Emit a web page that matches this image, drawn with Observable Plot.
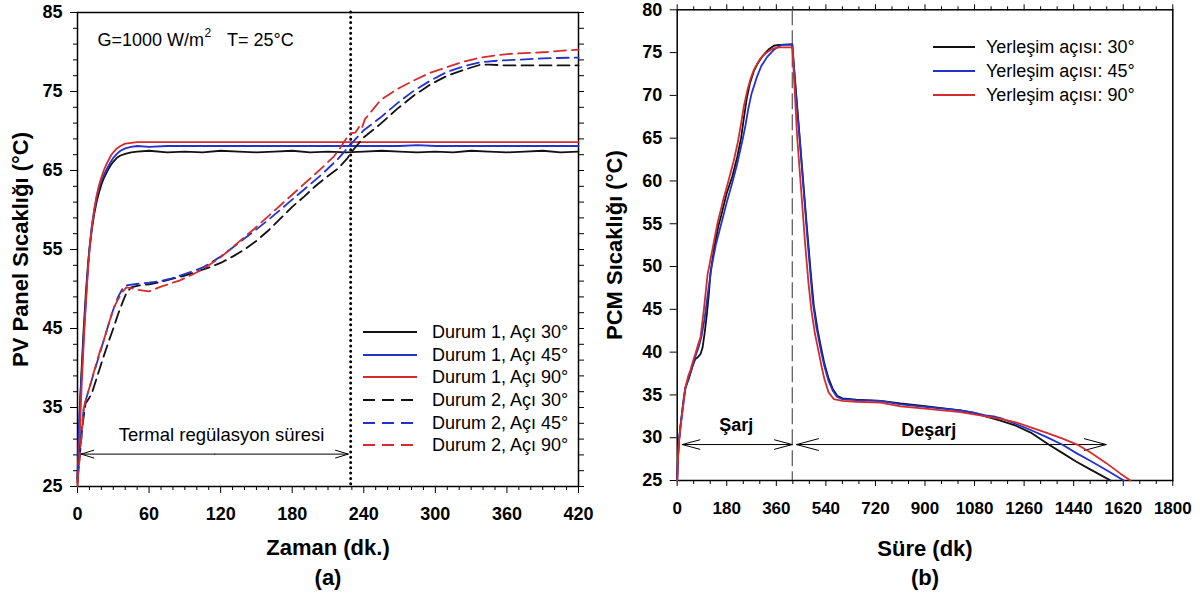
<!DOCTYPE html>
<html><head><meta charset="utf-8">
<script src="https://cdn.jsdelivr.net/npm/d3@7"></script>
<script src="https://cdn.jsdelivr.net/npm/@observablehq/plot@0.6"></script>
<style>
body{margin:0;background:#fff;}
#wrap{position:relative;width:1201px;height:600px;font-family:"Liberation Sans",Arial,sans-serif;color:#000;}
#pa{position:absolute;left:0;top:0;}
#pb{position:absolute;left:600px;top:0;}
.lt{position:absolute;font-size:18px;line-height:22px;white-space:nowrap;}
.ls{position:absolute;overflow:visible;}
</style></head><body><div id="wrap"><div id="pa"></div><div id="pb"></div></div>
<script>
// ---------- Panel (a) data: [time (dk.), temperature (°C)] ----------
const a_d1_30 = [[0,25.5],[1,30],[2,35],[3,38.5],[4,41.5],[5,44.5],[6,47],[7,49.5],[8,51.5],[9,53.5],[10,55],[12,57.5],[14,59.5],[16,61],[18,62.2],[20,63.2],[22,64],[24,64.6],[26,65.2],[28,65.7],[30,66.1],[33,66.6],[36,66.9],[40,67.1],[45,67.3],[50,67.4],
 [60,67.5],[75,67.3],[90,67.4],[105,67.3],[120,67.5],[135,67.4],[150,67.3],[165,67.4],[180,67.5],[195,67.3],[210,67.4],[225,67.3],[240,67.4],[255,67.5],[270,67.4],[285,67.3],[300,67.4],[315,67.3],[330,67.5],[345,67.4],[360,67.3],[375,67.4],[390,67.5],[405,67.3],[420,67.4]];
const a_d1_45 = [[0,26],[1,31.7],[2,35.5],[3,38],[4,40.5],[5,43.5],[6,46],[7,48.5],[8,51],[9,53.2],[10,55.2],[12,58],[14,60],[16,61.6],[18,62.8],[20,63.7],[22,64.4],[24,65],[26,65.6],[28,66.1],[30,66.6],[33,67.1],[36,67.5],[40,67.8],[45,68],[50,68.1],
 [60,68.0],[75,68.1],[90,68.1],[105,68.1],[120,68.1],[135,68.1],[150,68.1],[165,68.1],[180,68.1],[195,68.1],[210,68.1],[225,68.1],[240,68.1],[255,68.1],[270,68.1],[285,68.2],[300,68.1],[315,68.1],[330,68.1],[345,68.1],[360,68.1],[375,68.1],[390,68.1],[405,68.1],[420,68.1]];
const a_d1_90 = [[0,25],[1,28],[2,32],[3,36],[4,39.5],[5,42.5],[6,45.5],[7,48],[8,50.5],[9,52.8],[10,54.8],[12,57.8],[14,60],[16,61.8],[18,63.1],[20,64.1],[22,65],[24,65.7],[26,66.3],[28,66.9],[30,67.3],[33,67.8],[36,68.1],[40,68.4],[45,68.5],[50,68.6],
 [60,68.6],[120,68.6],[180,68.6],[240,68.6],[300,68.6],[360,68.6],[420,68.6]];
const a_d2_30 = [[0,26],[2,29],[4,32.5],[6.7,35.5],[9,36],[12,36.8],[15,38.2],[19,40.1],[22,41.5],[26,43.3],[30,45],[34,46.8],[38,48.4],[41,49.5],[45,50.2],[50,50.4],[60,50.6],[70,50.9],[80,51.3],[90,51.7],[100,52.2],[110,52.7],[120,53.3],[130,54.1],[140,55],[150,56.1],[160,57.4],[170,58.9],[176,59.8],[180,60.4],[190,61.7],[200,63.1],[210,64.3],[218,65.2],[226,66.5],[230,67.4],[240,69.2],[254,70.9],[268,72.8],[282,74.5],[296,75.9],[310,77],[325,77.8],[338,78.4],[345,78.4],[360,78.3],[380,78.3],[400,78.3],[420,78.3]];
const a_d2_45 = [[0,26.5],[2,30],[4,33],[5.3,35],[8,36.5],[11,38],[15,40],[19,42],[22,43.5],[26,45.5],[30,47.4],[34,49],[38,50.1],[42,50.5],[48,50.6],[53,50.7],[60,50.8],[70,51],[78,51.3],[86,51.7],[96,52.2],[106,52.8],[120,54.1],[134,55.7],[148,57.3],[162,59],[176,60.8],[190,62.6],[204,64.4],[218,66.4],[229,68.3],[240,70.1],[254,71.7],[268,73.5],[282,75.1],[296,76.4],[310,77.5],[324,78.2],[338,78.7],[352,78.9],[366,79],[390,79.2],[420,79.3]];
const a_d2_90 = [[0,25.5],[2,29],[4,32.5],[5.3,35],[8,36.5],[11,38],[15,40.2],[19,42.2],[22,43.5],[26,45.5],[30,47.5],[33,48.4],[37,49.5],[41,50.2],[45,50.1],[50,49.9],[55,49.8],[60,49.7],[70,50.3],[80,50.8],[86,51.1],[96,51.8],[106,52.6],[120,54],[134,55.8],[148,57.6],[162,59.5],[176,61.4],[190,63.3],[204,65.2],[215,66.8],[220,67.8],[226,69.2],[229,69.7],[233,69.8],[236,70.5],[238,70.2],[241,71.5],[254,73.9],[268,75.3],[282,76.4],[296,77.4],[310,78.1],[324,78.8],[338,79.3],[352,79.6],[366,79.8],[380,79.9],[394,80],[410,80.2],[420,80.3]];

const aXTicks = [0,60,120,180,240,300,360,420];
const aYTicks = [25,35,45,55,65,75,85];
const aLegendLabels = ["Durum 1, Açı 30°","Durum 1, Açı 45°","Durum 1, Açı 90°","Durum 2, Açı 30°","Durum 2, Açı 45°","Durum 2, Açı 90°"];
const aTitleParts = ["G=1000 W/m", "2", "T= 25°C"];
const aRegulationEnd = 229;            // dotted line (dk.)
const aArrowSpan = [3, 227];          // "Termal regülasyon süresi" arrow (dk.)
const aArrowLevel = 29.1;             // °C

// ---------- Panel (b) data: [time (dk), PCM temperature (°C)] ----------
const b_30 = [[0,25],[3,27.8],[6,29.5],[12,31.4],[18,33],[24,34.6],[30,35.8],[42,36.9],[55,38.3],[66,39.2],[75,39.4],[85,39.8],[92,40.5],[100,42.3],[108,44.5],[115,46.8],[121,49.3],[135,52.3],[150,54.8],[160,56],[180,58.6],[200,60.5],[218,62.8],[232,65],[242,67.3],[252,69.5],[264,71.4],[278,72.8],[290,73.6],[310,74.6],[333,75.4],[351,75.8],[370,75.9],[418,75.95],
 [425,73],[440,67],[455,61],[470,55],[485,49.3],[496,45.5],[510,42.6],[522,40.6],[535,38.6],[550,36.9],[565,35.7],[581,34.9],[600,34.6],[650,34.45],[739,34.3],[811,34],[900,33.7],[1029,33.2],[1080,32.9],[1120,32.5],[1174,32],[1230,31.4],[1284,30.6],[1349,29.2],[1400,28.2],[1450,27.2],[1500,26.3],[1540,25.6],[1574,25]];
const b_45 = [[0,25],[3,27.8],[6,29.5],[12,31.4],[18,33],[24,34.6],[30,35.9],[42,37],[55,38.3],[66,39.5],[78,40.6],[88,41.8],[100,44],[112,47],[125,50],[140,52.5],[160,55],[180,57.5],[200,59.8],[218,62],[236,64.6],[248,66.5],[258,68.4],[270,70.2],[290,72.2],[305,73.4],[327,74.5],[350,75.3],[363,75.6],[380,75.9],[418,75.95],
 [428,71.5],[445,64.8],[460,58.6],[475,52.5],[492,46],[505,43],[523,40],[535,38.3],[550,36.6],[565,35.5],[580,34.8],[600,34.5],[650,34.4],[739,34.3],[811,33.9],[900,33.6],[1029,33.2],[1080,32.9],[1120,32.6],[1150,32.5],[1160,32.4],[1174,32.3],[1230,31.6],[1284,30.9],[1340,30.1],[1398,29.2],[1450,28.2],[1500,27.3],[1560,26.2],[1622,25]];
const b_90 = [[0,25],[3,27.5],[6,29.3],[12,31.2],[18,32.8],[24,34.3],[30,35.9],[40,37.2],[48,37.9],[57,38.9],[66,39.8],[75,40.8],[85,41.8],[97,45],[110,49],[128,52],[146,55],[165,57.5],[186,60],[205,62.3],[220,64.5],[232,66.7],[242,68.7],[254,70.5],[266,71.9],[280,73.1],[302,74.3],[320,74.9],[339,75.3],[351,75.5],[370,75.6],[418,75.6],
 [426,71],[436,65],[450,59],[465,52.5],[477,48],[487,45],[500,42.2],[514,40],[525,38.2],[535,36.8],[550,35.3],[569,34.5],[600,34.3],[650,34.2],[739,34.1],[811,33.65],[900,33.4],[1029,33],[1100,32.6],[1174,32.2],[1230,31.8],[1284,31.2],[1340,30.6],[1400,29.9],[1453,29.2],[1500,28.3],[1560,27],[1610,25.8],[1646,25]];

const bXTicks = [0,180,360,540,720,900,1080,1260,1440,1620,1800];
const bYTicks = [25,30,35,40,45,50,55,60,65,70,75,80];
const bLegendLabels = ["Yerleşim açısı: 30°","Yerleşim açısı: 45°","Yerleşim açısı: 90°"];
const bSwitchTime = 418;               // charge -> discharge (dk)
const bChargeSpan = [18, 417.7];
const bDischargeSpan = [433.5, 1558];
const bArrowLevel = 29.2;

// ---------- styling ----------
const FONT = '"Liberation Sans", Arial, sans-serif';
const C30 = "#111111", C45 = "#2233cc", C90 = "#d42c2c";
const DASH = "12,6";
const toRows = arr => arr.map(([t, v]) => ({t, v}));
const blank = () => "";
const intFmt = d3.format("d");

const aSeries = [
  {data: a_d1_30, color: C30, dash: null},
  {data: a_d1_45, color: C45, dash: null},
  {data: a_d1_90, color: C90, dash: null},
  {data: a_d2_30, color: C30, dash: DASH},
  {data: a_d2_45, color: C45, dash: DASH},
  {data: a_d2_90, color: C90, dash: DASH}
];
const bSeries = [
  {data: b_30, color: C30},
  {data: b_45, color: C45},
  {data: b_90, color: C90}
];

function doubleArrow(span, level) {
  const mid = (span[0] + span[1]) / 2;
  return [{x1: mid, x2: span[0], y: level}, {x1: mid, x2: span[1], y: level}];
}

// ---------- Panel (a) ----------
const chartA = Plot.plot({
  width: 600, height: 600,
  marginLeft: 77, marginRight: 22, marginTop: 12, marginBottom: 114,
  x: {domain: [0, 420], label: null},
  y: {domain: [25, 85], label: null},
  style: {fontFamily: FONT, fontSize: "18px", color: "#000", background: "transparent", overflow: "visible"},
  marks: [
    Plot.axisY({anchor: "left", ticks: d3.range(25, 86, 2).filter(v => (v - 25) % 10 !== 0), tickSize: 4, tickFormat: blank, label: null}),
    Plot.axisY({anchor: "left", ticks: aYTicks, tickSize: 7, tickPadding: 8, tickFormat: intFmt, fontSize: 18, fontWeight: "bold", label: null}),
    Plot.axisY({anchor: "right", ticks: d3.range(25, 86, 2), tickSize: 5, tickFormat: blank, label: null}),
    Plot.axisX({anchor: "bottom", ticks: d3.range(0, 421, 10).filter(v => v % 60 !== 0), tickSize: 4, tickFormat: blank, label: null}),
    Plot.axisX({anchor: "bottom", ticks: aXTicks, tickSize: 7, tickPadding: 14, tickFormat: intFmt, fontSize: 18, fontWeight: "bold", label: null}),
    Plot.frame({stroke: "#000", strokeWidth: 1.5}),
    Plot.ruleX([aRegulationEnd], {stroke: "#000", strokeWidth: 3, strokeDasharray: "0,5.3", strokeLinecap: "round"}),
    ...aSeries.map(s => Plot.line(toRows(s.data), {x: "t", y: "v", stroke: s.color, strokeWidth: 1.8, strokeDasharray: s.dash || undefined})),
    Plot.arrow(doubleArrow(aArrowSpan, aArrowLevel), {x1: "x1", x2: "x2", y1: "y", y2: "y", stroke: "#000", strokeWidth: 1, headLength: 20, headAngle: 34}),
    Plot.text(["Termal regülasyon süresi"], {frameAnchor: "bottom-left", dx: 144, dy: -46, textAnchor: "middle", lineAnchor: "bottom", fontSize: 18.5}),
    Plot.text([aTitleParts[0]], {frameAnchor: "top-left", dx: 20, dy: 33, textAnchor: "start", lineAnchor: "bottom", fontSize: 18}),
    Plot.text([aTitleParts[1]], {frameAnchor: "top-left", dx: 127, dy: 24.5, textAnchor: "start", lineAnchor: "bottom", fontSize: 12}),
    Plot.text([aTitleParts[2]], {frameAnchor: "top-left", dx: 149.5, dy: 33, textAnchor: "start", lineAnchor: "bottom", fontSize: 18}),
    Plot.text(["Zaman (dk.)"], {frameAnchor: "bottom", dy: 68, lineAnchor: "bottom", fontSize: 22, fontWeight: "bold"}),
    Plot.text(["(a)"], {frameAnchor: "bottom", dy: 98, lineAnchor: "bottom", fontSize: 22, fontWeight: "bold"}),
    Plot.text(["PV Panel Sıcaklığı (°C)"], {frameAnchor: "left", rotate: -90, dx: -50, lineAnchor: "bottom", textAnchor: "middle", fontSize: 22, fontWeight: "bold"})
  ]
});
document.getElementById("pa").appendChild(chartA);

// ---------- Panel (b) ----------
const chartB = Plot.plot({
  width: 601, height: 600,
  marginLeft: 76.7, marginRight: 28.7, marginTop: 9.3, marginBottom: 120,
  x: {domain: [0, 1800], label: null},
  y: {domain: [25, 80], label: null},
  style: {fontFamily: FONT, fontSize: "18px", color: "#000", background: "transparent", overflow: "visible"},
  marks: [
    Plot.axisY({anchor: "left", ticks: bYTicks, tickSize: 7, tickPadding: 8, tickFormat: intFmt, fontSize: 18, fontWeight: "bold", label: null}),
    Plot.axisX({anchor: "bottom", ticks: d3.range(0, 1801, 60).filter(v => v % 180 !== 0), tickSize: 4, tickFormat: blank, label: null}),
    Plot.axisX({anchor: "bottom", ticks: bXTicks, tickSize: 6, tickPadding: 15, tickFormat: intFmt, fontSize: 17, fontWeight: "bold", label: null}),
    Plot.axisX({anchor: "top", ticks: d3.range(0, 1801, 60).filter(v => v % 180 !== 0), tickSize: 4, tickFormat: blank, label: null}),
    Plot.axisX({anchor: "top", ticks: bXTicks, tickSize: 6, tickFormat: blank, label: null}),
    Plot.frame({stroke: "#000", strokeWidth: 1.5}),
    Plot.ruleX([bSwitchTime], {stroke: "#555", strokeWidth: 1.2, strokeDasharray: "16,5"}),
    Plot.arrow(doubleArrow(bChargeSpan, bArrowLevel), {x1: "x1", x2: "x2", y1: "y", y2: "y", stroke: "#000", strokeWidth: 1, headLength: 34, headAngle: 30}),
    Plot.arrow(doubleArrow(bDischargeSpan, bArrowLevel), {x1: "x1", x2: "x2", y1: "y", y2: "y", stroke: "#000", strokeWidth: 1, headLength: 34, headAngle: 30}),
    ...bSeries.map(s => Plot.line(toRows(s.data), {x: "t", y: "v", stroke: s.color, strokeWidth: 1.8})),
    Plot.text(["Şarj"], {frameAnchor: "bottom-left", dx: 59, dy: -50, textAnchor: "middle", lineAnchor: "bottom", fontSize: 18, fontWeight: "bold"}),
    Plot.text(["Deşarj"], {frameAnchor: "bottom-left", dx: 251.6, dy: -45, textAnchor: "middle", lineAnchor: "bottom", fontSize: 18, fontWeight: "bold"}),
    Plot.text(["Süre (dk)"], {frameAnchor: "bottom", dy: 75, lineAnchor: "bottom", fontSize: 22, fontWeight: "bold"}),
    Plot.text(["(b)"], {frameAnchor: "bottom", dy: 104, lineAnchor: "bottom", fontSize: 22, fontWeight: "bold"}),
    Plot.text(["PCM Sıcaklığı (°C)"], {frameAnchor: "left", rotate: -90, dx: -55.7, lineAnchor: "bottom", textAnchor: "middle", fontSize: 22, fontWeight: "bold"})
  ]
});
document.getElementById("pb").appendChild(chartB);

// ---------- legends (overlaid on the plot areas) ----------
const wrap = document.getElementById("wrap");
function addLegendRow(x1, len, textX, cy, color, dash, label) {
  const ns = "http://www.w3.org/2000/svg";
  const svg = document.createElementNS(ns, "svg");
  svg.setAttribute("class", "ls");
  svg.setAttribute("width", len); svg.setAttribute("height", 4);
  svg.style.left = x1 + "px"; svg.style.top = (cy - 2) + "px";
  const ln = document.createElementNS(ns, "line");
  ln.setAttribute("x1", 0); ln.setAttribute("x2", len); ln.setAttribute("y1", 2); ln.setAttribute("y2", 2);
  ln.setAttribute("stroke", color); ln.setAttribute("stroke-width", 2);
  if (dash) ln.setAttribute("stroke-dasharray", dash);
  svg.appendChild(ln);
  wrap.appendChild(svg);
  const t = document.createElement("div");
  t.className = "lt"; t.textContent = label;
  t.style.left = textX + "px"; t.style.top = (cy - 11) + "px";
  wrap.appendChild(t);
}
const aLegendRowsY = [331.7, 354.5, 377.2, 399.9, 422.6, 445.3];
aSeries.forEach((s, i) => addLegendRow(363, 54, 432, aLegendRowsY[i], s.color, s.dash ? "12,7" : null, aLegendLabels[i]));
const bLegendRowsY = [47, 71, 95];
bSeries.forEach((s, i) => addLegendRow(933, 42, 986, bLegendRowsY[i], s.color, null, bLegendLabels[i]));
</script></body></html>
